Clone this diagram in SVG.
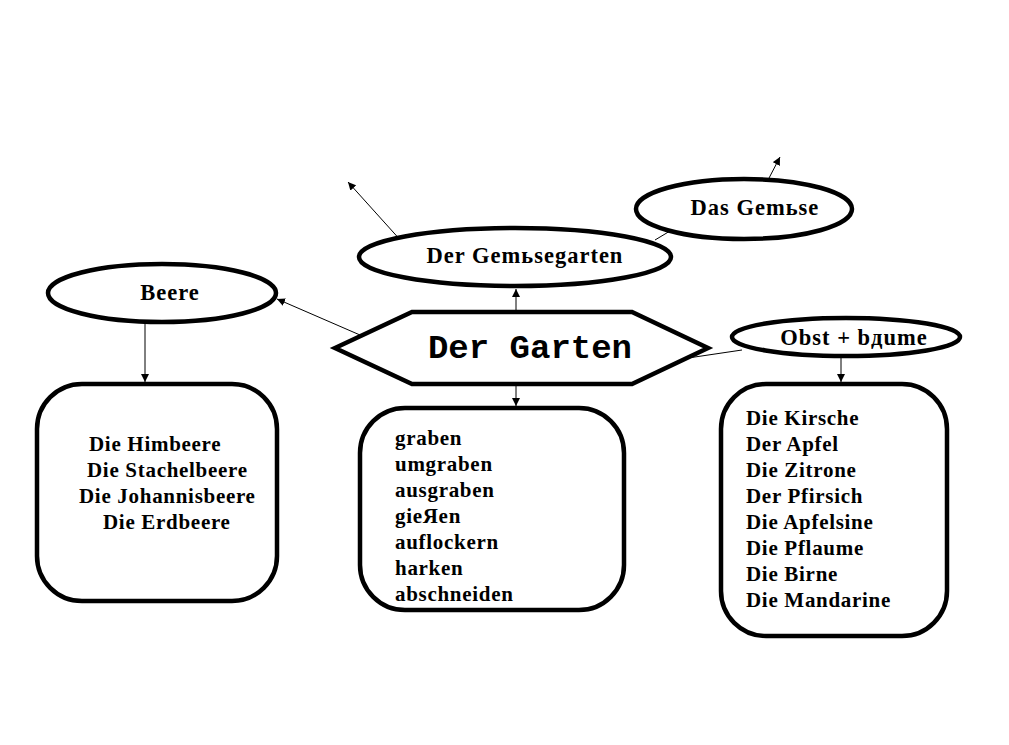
<svg xmlns="http://www.w3.org/2000/svg" width="1009" height="745" viewBox="0 0 1009 745">
<style>
.shape{fill:#fff;stroke:#000;stroke-width:4.5}
.lbl{font-family:"Liberation Serif","Times New Roman",serif;font-weight:bold;font-size:21px;fill:#000;letter-spacing:0.7px}
.mid{text-anchor:middle;font-size:22.5px;letter-spacing:1px}
.title{font-family:"Liberation Mono","Courier New",monospace;font-weight:bold;font-size:34px;fill:#000;text-anchor:middle}
.conn{stroke:#000;stroke-width:1;fill:none}
</style>
<defs>
<marker id="ah" viewBox="0 0 10 10" refX="10" refY="5" markerWidth="8" markerHeight="8" markerUnits="userSpaceOnUse" orient="auto">
<path d="M0,0 L10,5 L0,10 z" fill="#000"/>
</marker>
</defs>
<rect width="1009" height="745" fill="#fff"/>
<g id="connectors">
<line class="conn" x1="403" y1="243" x2="348" y2="182" marker-end="url(#ah)"/>
<line class="conn" x1="768" y1="180" x2="780" y2="157" marker-end="url(#ah)"/>
<line class="conn" x1="655" y1="240" x2="670" y2="231"/>
<line class="conn" x1="516" y1="311" x2="516" y2="289" marker-end="url(#ah)"/>
<line class="conn" x1="360" y1="335" x2="277" y2="299" marker-end="url(#ah)"/>
<line class="conn" x1="688" y1="358" x2="742" y2="350"/>
<line class="conn" x1="516" y1="385" x2="516" y2="406" marker-end="url(#ah)"/>
<line class="conn" x1="145" y1="322" x2="145" y2="382" marker-end="url(#ah)"/>
<line class="conn" x1="841" y1="356" x2="841" y2="382" marker-end="url(#ah)"/>
</g>
<g id="beere">
<ellipse class="shape" cx="162" cy="293" rx="114" ry="29"/>
<text class="lbl mid" x="170" y="300">Beere</text>
</g>
<g id="gemuesegarten">
<ellipse class="shape" cx="515" cy="257" rx="156" ry="29"/>
<text class="lbl mid" x="525" y="263">Der Gemьsegarten</text>
</g>
<g id="gemuese">
<ellipse class="shape" cx="744" cy="209" rx="108" ry="30"/>
<text class="lbl mid" x="755" y="215">Das Gemьse</text>
</g>
<g id="obst">
<ellipse class="shape" cx="846" cy="337" rx="114" ry="19"/>
<text class="lbl mid" x="854" y="345">Obst + bдume</text>
</g>
<g id="garten">
<polygon class="shape" points="335,348 412,312 632,312 708,348 632,384 412,384"/>
<text class="title" x="530" y="358">Der Garten</text>
</g>
<g id="beeren-list">
<rect class="shape" x="37" y="384" width="240" height="217" rx="45" ry="45"/>
<text class="lbl" x="89" y="451">Die Himbeere</text>
<text class="lbl" x="87" y="477">Die Stachelbeere</text>
<text class="lbl" x="79" y="503">Die Johannisbeere</text>
<text class="lbl" x="103" y="529">Die Erdbeere</text>
</g>
<g id="verben-list">
<rect class="shape" x="360" y="408" width="264" height="202" rx="45" ry="45"/>
<text class="lbl" x="395" y="445">graben</text>
<text class="lbl" x="395" y="471">umgraben</text>
<text class="lbl" x="395" y="497">ausgraben</text>
<text class="lbl" x="395" y="523">gieЯen</text>
<text class="lbl" x="395" y="549">auflockern</text>
<text class="lbl" x="395" y="575">harken</text>
<text class="lbl" x="395" y="601">abschneiden</text>
</g>
<g id="obst-list">
<rect class="shape" x="721" y="384" width="226" height="252" rx="45" ry="45"/>
<text class="lbl" x="746" y="425">Die Kirsche</text>
<text class="lbl" x="746" y="451">Der Apfel</text>
<text class="lbl" x="746" y="477">Die Zitrone</text>
<text class="lbl" x="746" y="503">Der Pfirsich</text>
<text class="lbl" x="746" y="529">Die Apfelsine</text>
<text class="lbl" x="746" y="555">Die Pflaume</text>
<text class="lbl" x="746" y="581">Die Birne</text>
<text class="lbl" x="746" y="607">Die Mandarine</text>
</g>
</svg>
